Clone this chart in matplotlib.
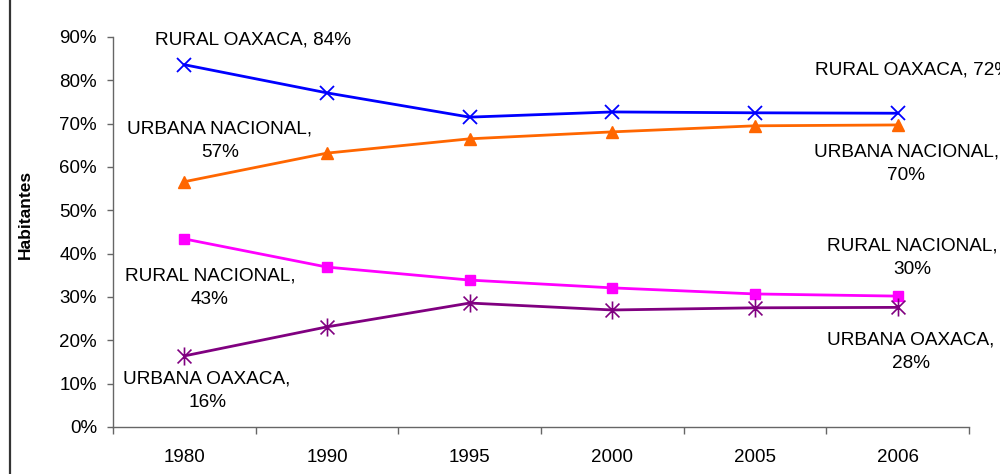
import matplotlib
matplotlib.use("Agg")
import matplotlib.pyplot as plt
from matplotlib.patches import Rectangle
from matplotlib.path import Path
from matplotlib.ticker import FixedLocator, NullFormatter

plt.rcParams['font.family'] = ['Liberation Sans', 'DejaVu Sans']

years = ["1980", "1990", "1995", "2000", "2005", "2006"]

rural_oaxaca = [83.6, 77.1, 71.5, 72.7, 72.5, 72.4]
urbana_nacional = [56.6, 63.2, 66.5, 68.1, 69.5, 69.7]
rural_nacional = [43.4, 36.9, 33.9, 32.1, 30.7, 30.2]
urbana_oaxaca = [16.4, 23.1, 28.6, 27.0, 27.5, 27.6]

y_ticks = [0, 10, 20, 30, 40, 50, 60, 70, 80, 90]

# Asterisk marker: an X crossed by a vertical stroke
star = Path(
    [(-1, -1), (1, 1), (-1, 1), (1, -1), (0, -1.3), (0, 1.3)],
    [Path.MOVETO, Path.LINETO, Path.MOVETO, Path.LINETO, Path.MOVETO, Path.LINETO],
)

fig = plt.figure(figsize=(10, 4.74), dpi=100)
ax = fig.add_axes([0.113, 0.0992, 0.856, 0.8228])

x = list(range(len(years)))

series = [
    ("RURAL OAXACA", rural_oaxaca, "#0000FF", "x", 10, dict(markeredgewidth=1.3)),
    ("URBANA NACIONAL", urbana_nacional, "#FF6600", "^", 8, {}),
    ("RURAL NACIONAL", rural_nacional, "#FF00FF", "s", 7, {}),
    ("URBANA OAXACA", urbana_oaxaca, "#800080", star, 13, dict(markeredgewidth=1.2, markerfacecolor="none")),
]

for name, vals, col, mk, ms, extra in series:
    ax.plot(x, vals, color=col, lw=2.0, marker=mk, markersize=ms,
            markeredgecolor=col, markerfacecolor=extra.pop("markerfacecolor", col),
            clip_on=False, **extra)

ax.set_xlim(-0.5, len(years) - 0.5)
ax.set_ylim(0, 90)

ax.set_xticks(x)
ax.set_xticklabels(years)
ax.xaxis.set_minor_locator(FixedLocator([i - 0.5 for i in range(len(years) + 1)]))
ax.xaxis.set_minor_formatter(NullFormatter())
ax.tick_params(axis="x", which="major", length=0, pad=16, labelsize=13.5)
ax.tick_params(axis="x", which="minor", length=5, width=1, color="#666666")

ax.set_yticks(y_ticks)
ax.set_yticklabels([f"{v}%" for v in y_ticks])
ax.tick_params(axis="y", length=4.5, width=1, color="#666666", pad=7, labelsize=13.5)

for s in ("top", "right"):
    ax.spines[s].set_visible(False)
for s in ("left", "bottom"):
    ax.spines[s].set_color("#666666")
    ax.spines[s].set_linewidth(1.0)

fig.text(0.025, 1 - 214 / 474, "Habitantes", rotation=90, fontsize=12.5,
         fontweight="bold", ha="center", va="center")

lab_kw = dict(fontsize=13.7, ha="center", va="center", color="#000000",
              linespacing=1.5, clip_on=False)

def label(name, v):
    return f"{name}, {v:.0f}%"

# Start-of-period labels (1980)
ax.text(0.48, 89.2, label("RURAL OAXACA", rural_oaxaca[0]), **lab_kw)
ax.text(0.25, 66.0, "URBANA NACIONAL,\n" + f"{urbana_nacional[0]:.0f}%", **lab_kw)
ax.text(0.18, 32.2, "RURAL NACIONAL,\n" + f"{rural_nacional[0]:.0f}%", **lab_kw)
ax.text(0.16, 8.4, "URBANA OAXACA,\n" + f"{urbana_oaxaca[0]:.0f}%", **lab_kw)

# End-of-period labels (2006)
ax.text(5.11, 82.3, label("RURAL OAXACA", rural_oaxaca[-1]), **lab_kw)
ax.text(5.06, 60.7, "URBANA NACIONAL,\n" + f"{urbana_nacional[-1]:.0f}%", **lab_kw)
ax.text(5.1, 39.0, "RURAL NACIONAL,\n" + f"{rural_nacional[-1]:.0f}%", **lab_kw)
ax.text(5.09, 17.3, "URBANA OAXACA,\n" + f"{urbana_oaxaca[-1]:.0f}%", **lab_kw)

# Outer chart frame, running off the right and bottom edges
fig.add_artist(Rectangle((9.5 / 1000, -0.2), 1.2, 1.2 + (1 - 10.5 / 474),
                         transform=fig.transFigure, fill=False,
                         edgecolor="#333333", linewidth=1.6, clip_on=False))

fig.savefig("out.png", dpi=100)
